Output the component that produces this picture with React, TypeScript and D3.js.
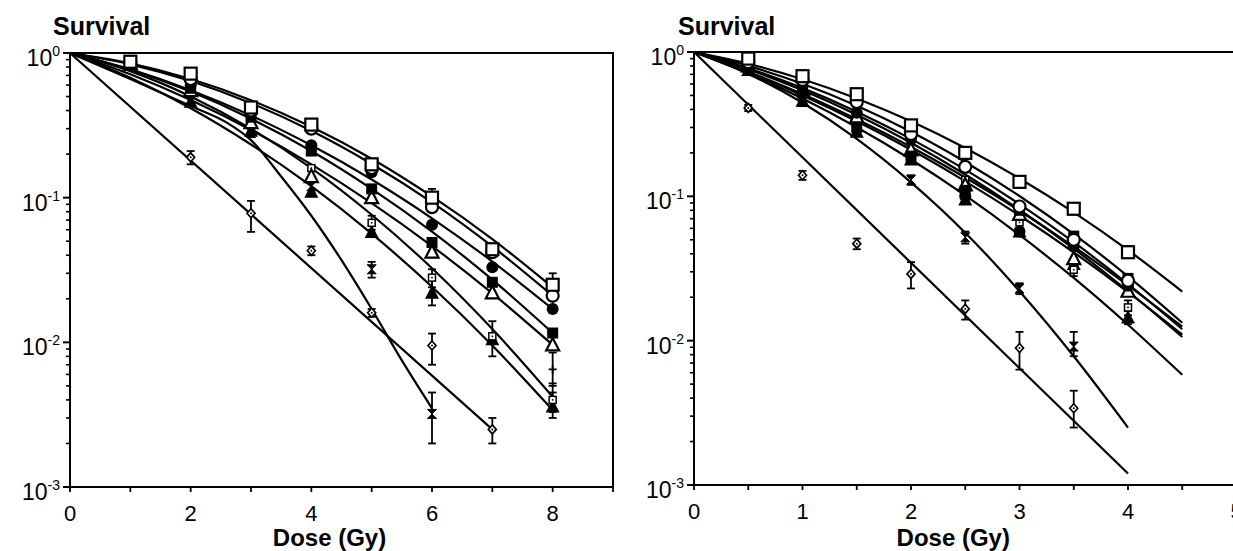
import React from 'react';
import * as d3 from 'd3';

// ---------- DATA: [dose, survival, errLow?, errHigh?] ----------
type Pt = [number, number, number?, number?];
type K = [number, number];

// Left panel (doses 0-9 Gy)
const L_openSquarePts: Pt[] = [[1, 0.87], [2, 0.72], [3, 0.42], [4, 0.32], [5, 0.17], [6, 0.1, 0.085, 0.115], [7, 0.044, 0.04, 0.048], [8, 0.025, 0.021, 0.03]];
const L_openSquareFit: K[] = [[0, 1], [1, 0.849], [2, 0.661], [3, 0.472], [4, 0.309], [5, 0.186], [6, 0.102], [7, 0.0517], [8, 0.024]];
const L_openCirclePts: Pt[] = [[1, 0.85], [2, 0.66], [3, 0.4], [4, 0.3], [5, 0.16], [6, 0.086], [7, 0.042], [8, 0.021, 0.018, 0.024]];
const L_openCircleFit: K[] = [[0, 1], [1, 0.835], [2, 0.64], [3, 0.45], [4, 0.29], [5, 0.171], [6, 0.0927], [7, 0.046], [8, 0.021]];
const L_filledCirclePts: Pt[] = [[1, 0.84], [2, 0.6], [3, 0.38], [4, 0.23], [5, 0.15], [6, 0.065], [7, 0.033], [8, 0.017]];
const L_filledCircleFit: K[] = [[0, 1], [1, 0.77], [2, 0.553], [3, 0.37], [4, 0.23], [5, 0.1335], [6, 0.072], [7, 0.0362], [8, 0.017]];
const L_filledSquarePts: Pt[] = [[1, 0.84], [2, 0.57], [3, 0.36], [4, 0.21], [5, 0.115], [6, 0.049], [7, 0.026], [8, 0.0116]];
const L_filledSquareFit: K[] = [[0, 1], [1, 0.767], [2, 0.541], [3, 0.351], [4, 0.21], [5, 0.115], [6, 0.0583], [7, 0.0271], [8, 0.0116]];
const L_openTrianglePts: Pt[] = [[1, 0.84], [2, 0.55], [3, 0.33], [4, 0.14], [5, 0.1], [6, 0.042], [7, 0.022], [8, 0.0096]];
const L_openTriangleFit: K[] = [[0, 1], [1, 0.712], [2, 0.473], [3, 0.294], [4, 0.17], [5, 0.0918], [6, 0.0463], [7, 0.0218], [8, 0.0096]];
const L_filledTrianglePts: Pt[] = [[1, 0.83], [2, 0.46], [3, 0.29], [4, 0.11], [5, 0.058], [6, 0.022, 0.018, 0.027], [7, 0.0105], [8, 0.0036, 0.003, 0.0045]];
const L_filledTriangleFit: K[] = [[0, 1], [1, 0.674], [2, 0.415], [3, 0.233], [4, 0.12], [5, 0.0564], [6, 0.0242], [7, 0.0095], [8, 0.0034]];
const L_smallSquarePts: Pt[] = [[1, 0.83], [2, 0.58], [3, 0.34], [4, 0.16], [5, 0.067, 0.06, 0.075], [6, 0.028, 0.024, 0.032], [7, 0.011, 0.008, 0.014], [8, 0.004, 0.0033, 0.0052]];
const L_smallSquareFit: K[] = [[0, 1], [1, 0.749], [2, 0.501], [3, 0.2996], [4, 0.16], [5, 0.0762], [6, 0.0325], [7, 0.01235], [8, 0.0042]];
const L_hourglassPts: Pt[] = [[2, 0.52], [3, 0.28], [4, 0.12], [5, 0.032, 0.028, 0.036], [6, 0.0032, 0.002, 0.0045]];
const L_hourglassFit: K[] = [[0, 1], [1, 0.66], [2, 0.43], [2.6, 0.33], [3, 0.25], [3.5, 0.14], [4, 0.075], [4.5, 0.037], [5, 0.017], [5.5, 0.0075], [6, 0.0035]];
const L_diamondPts: Pt[] = [[2, 0.19, 0.17, 0.21], [3, 0.078, 0.058, 0.095], [4, 0.043, 0.04, 0.046], [5, 0.016, 0.015, 0.017], [6, 0.0095, 0.007, 0.0115], [7, 0.0025, 0.002, 0.003]];
const L_diamondFit: K[] = [[0, 1], [7, 0.0025]];
const L_plusPts: Pt[] = [[8, 0.0065, 0.005, 0.0085]];

// Right panel (doses 0-5 Gy)
const R_openSquarePts: Pt[] = [[0.5, 0.9], [1, 0.68], [1.5, 0.51], [2, 0.31], [2.5, 0.2], [3, 0.126, 0.118, 0.134], [3.5, 0.082, 0.077, 0.087], [4, 0.041, 0.038, 0.045]];
const R_openSquareFit: K[] = [[0, 1], [0.5, 0.829], [1, 0.648], [1.5, 0.477], [2, 0.331], [2.5, 0.216], [3, 0.133], [3.5, 0.0774], [4, 0.0424], [4.5, 0.0219]];
const R_openCirclePts: Pt[] = [[0.5, 0.85], [1, 0.64], [1.5, 0.45], [2, 0.27], [2.5, 0.16], [3, 0.085], [3.5, 0.05], [4, 0.026]];
const R_openCircleFit: K[] = [[0, 1], [0.5, 0.801], [1, 0.602], [1.5, 0.424], [2, 0.28], [2.5, 0.173], [3, 0.1005], [3.5, 0.0547], [4, 0.0279], [4.5, 0.0133]];
const R_filledCirclePts: Pt[] = [[0.5, 0.8], [1, 0.58], [1.5, 0.38], [2, 0.25], [2.5, 0.1], [3, 0.057], [3.5, 0.045], [4, 0.024]];
const R_filledCircleFit: K[] = [[0, 1], [0.5, 0.772], [1, 0.562], [1.5, 0.386], [2, 0.25], [2.5, 0.153], [3, 0.0883], [3.5, 0.0481], [4, 0.0247], [4.5, 0.012]];
const R_filledSquarePts: Pt[] = [[0.5, 0.78], [1, 0.52], [1.5, 0.3], [2, 0.19], [2.5, 0.11], [3, 0.08], [3.5, 0.053], [4, 0.027]];
const R_filledSquareFit: K[] = [[0, 1], [0.5, 0.73], [1, 0.511], [1.5, 0.342], [2, 0.22], [2.5, 0.135], [3, 0.0795], [3.5, 0.0448], [4, 0.0242], [4.5, 0.0125]];
const R_openTrianglePts: Pt[] = [[0.5, 0.8], [1, 0.55], [1.5, 0.355], [2, 0.21], [2.5, 0.12], [3, 0.075], [3.5, 0.037], [4, 0.022]];
const R_openTriangleFit: K[] = [[0, 1], [0.5, 0.723], [1, 0.5], [1.5, 0.331], [2, 0.21], [2.5, 0.127], [3, 0.0737], [3.5, 0.0409], [4, 0.0217], [4.5, 0.011]];
const R_smallSquarePts: Pt[] = [[0.5, 0.82], [1, 0.6], [1.5, 0.43], [2, 0.24], [2.5, 0.13], [3, 0.066], [3.5, 0.031, 0.028, 0.034], [4, 0.017, 0.015, 0.019]];
const R_smallSquareFit: K[] = [[0, 1], [0.5, 0.759], [1, 0.543], [1.5, 0.368], [2, 0.235], [2.5, 0.1417], [3, 0.0807], [3.5, 0.0434], [4, 0.022], [4.5, 0.0106]];
const R_filledTrianglePts: Pt[] = [[0.5, 0.75], [1, 0.46], [1.5, 0.28], [2, 0.18], [2.5, 0.095], [3, 0.057], [3.5, 0.034], [4, 0.0145, 0.013, 0.016]];
const R_filledTriangleFit: K[] = [[0, 1], [0.5, 0.71], [1, 0.476], [1.5, 0.301], [2, 0.18], [2.5, 0.1015], [3, 0.054], [3.5, 0.0272], [4, 0.0129], [4.5, 0.0058]];
const R_hourglassPts: Pt[] = [[1, 0.45], [2, 0.13, 0.12, 0.14], [2.5, 0.052, 0.047, 0.057], [3, 0.023, 0.021, 0.025], [3.5, 0.0091, 0.0078, 0.0115]];
const R_hourglassFit: K[] = [[0, 1], [0.5, 0.705], [1, 0.445], [1.5, 0.25], [2, 0.125], [2.5, 0.056], [3, 0.022], [3.5, 0.0078], [4, 0.0025]];
const R_diamondPts: Pt[] = [[0.5, 0.41, 0.39, 0.43], [1, 0.14, 0.13, 0.15], [1.5, 0.047, 0.043, 0.051], [2, 0.029, 0.023, 0.035], [2.5, 0.0166, 0.014, 0.019], [3, 0.0089, 0.0063, 0.0115], [3.5, 0.0034, 0.0025, 0.0045]];
const R_diamondFit: K[] = [[0, 1], [4, 0.0012]];

const yTickExponents = [0, -1, -2, -3];
const leftXTicks = [0, 1, 2, 3, 4, 5, 6, 7, 8, 9];
const leftXLabels = [0, 2, 4, 6, 8];
const rightXTicks = [0, 0.5, 1, 1.5, 2, 2.5, 3, 3.5, 4, 4.5, 5];
const rightXLabels = [0, 1, 2, 3, 4, 5];

type Series = { pts: Pt[]; fit?: K[]; marker: string };

const leftSeries: Series[] = [
  { pts: L_diamondPts, fit: L_diamondFit, marker: 'diamond' },
  { pts: L_hourglassPts, fit: L_hourglassFit, marker: 'hourglass' },
  { pts: L_plusPts, marker: 'plus' },
  { pts: L_filledTrianglePts, fit: L_filledTriangleFit, marker: 'triFilled' },
  { pts: L_smallSquarePts, fit: L_smallSquareFit, marker: 'sqSmall' },
  { pts: L_openTrianglePts, fit: L_openTriangleFit, marker: 'triOpen' },
  { pts: L_filledSquarePts, fit: L_filledSquareFit, marker: 'sqFilled' },
  { pts: L_filledCirclePts, fit: L_filledCircleFit, marker: 'circFilled' },
  { pts: L_openCirclePts, fit: L_openCircleFit, marker: 'circOpen' },
  { pts: L_openSquarePts, fit: L_openSquareFit, marker: 'sqOpen' },
];

const rightSeries: Series[] = [
  { pts: R_diamondPts, fit: R_diamondFit, marker: 'diamond' },
  { pts: R_hourglassPts, fit: R_hourglassFit, marker: 'hourglass' },
  { pts: R_filledTrianglePts, fit: R_filledTriangleFit, marker: 'triFilled' },
  { pts: R_smallSquarePts, fit: R_smallSquareFit, marker: 'sqSmall' },
  { pts: R_openTrianglePts, fit: R_openTriangleFit, marker: 'triOpen' },
  { pts: R_filledSquarePts, fit: R_filledSquareFit, marker: 'sqFilled' },
  { pts: R_filledCirclePts, fit: R_filledCircleFit, marker: 'circFilled' },
  { pts: R_openCirclePts, fit: R_openCircleFit, marker: 'circOpen' },
  { pts: R_openSquarePts, fit: R_openSquareFit, marker: 'sqOpen' },
];

const FONT = "'Liberation Sans', Arial, Helvetica, sans-serif";

function Marker({ type, x, y }: { type: string; x: number; y: number }) {
  switch (type) {
    case 'sqOpen':
      return <rect x={x - 6} y={y - 6} width={12} height={12} fill="#fff" stroke="#000" strokeWidth={2.2} />;
    case 'sqFilled':
      return <rect x={x - 5.5} y={y - 5.5} width={11} height={11} fill="#000" />;
    case 'circOpen':
      return <circle cx={x} cy={y} r={6} fill="#fff" stroke="#000" strokeWidth={2.2} />;
    case 'circFilled':
      return <circle cx={x} cy={y} r={6} fill="#000" />;
    case 'triOpen':
      return <path d={`M${x},${y - 7}L${x + 6.5},${y + 5.5}L${x - 6.5},${y + 5.5}Z`} fill="#fff" stroke="#000" strokeWidth={2.2} />;
    case 'triFilled':
      return <path d={`M${x},${y - 7.5}L${x + 7},${y + 6}L${x - 7},${y + 6}Z`} fill="#000" />;
    case 'sqSmall':
      return (
        <g>
          <rect x={x - 3.5} y={y - 3.5} width={7} height={7} fill="#fff" stroke="#000" strokeWidth={1.5} />
          <rect x={x - 0.8} y={y - 0.8} width={1.6} height={1.6} fill="#000" />
        </g>
      );
    case 'hourglass':
      return <path d={`M${x - 4.5},${y - 4.5}L${x + 4.5},${y - 4.5}L${x - 4.5},${y + 4.5}L${x + 4.5},${y + 4.5}Z`} fill="#000" stroke="#000" strokeWidth={1} />;
    case 'diamond':
      return (
        <g>
          <path d={`M${x},${y - 4.5}L${x + 4},${y}L${x},${y + 4.5}L${x - 4},${y}Z`} fill="#fff" stroke="#000" strokeWidth={1.7} />
          <circle cx={x} cy={y} r={1} fill="#000" />
        </g>
      );
    case 'plus':
      return <path d={`M${x - 4},${y}H${x + 4}M${x},${y - 4}V${y + 4}`} stroke="#000" strokeWidth={1.8} />;
    default:
      return null;
  }
}

function Panel({
  x0, x1, xMax, yTop, yBottom, series, xTicks, xLabels, titleX,
}: {
  x0: number; x1: number; xMax: number; yTop: number; yBottom: number;
  series: Series[]; xTicks: number[]; xLabels: number[]; titleX: number;
}) {
  const x = d3.scaleLinear().domain([0, xMax]).range([x0, x1]);
  const y = d3.scaleLog().domain([1e-3, 1]).range([yBottom, yTop]);
  const line = d3.line<K>().x((d) => x(d[0])).y((d) => y(d[1])).curve(d3.curveMonotoneX);

  const minorY: number[] = [];
  for (const e of [-3, -2, -1]) for (let m = 2; m <= 9; m++) minorY.push(m * Math.pow(10, e));

  return (
    <g fontFamily={FONT}>
      <rect x={x0} y={yTop} width={x1 - x0} height={yBottom - yTop} fill="none" stroke="#000" strokeWidth={2} />
      {minorY.map((v, i) => (
        <line key={'my' + i} x1={x0 - 4} x2={x0} y1={y(v)} y2={y(v)} stroke="#000" strokeWidth={1.6} />
      ))}
      {yTickExponents.map((e) => (
        <g key={'y' + e}>
          <line x1={x0 - 7} x2={x0} y1={y(Math.pow(10, e))} y2={y(Math.pow(10, e))} stroke="#000" strokeWidth={2} />
          <text x={x0 - 10} y={y(Math.pow(10, e)) + 13} textAnchor="end" fontSize={23} fill="#000">
            10<tspan fontSize={14} dy={-10}>{e === 0 ? '0' : String(e)}</tspan>
          </text>
        </g>
      ))}
      {xTicks.map((t, i) => (
        <line key={'xt' + i} x1={x(t)} x2={x(t)} y1={yBottom} y2={yBottom + 5} stroke="#000" strokeWidth={1.8} />
      ))}
      {xLabels.map((t) => (
        <text key={'xl' + t} x={x(t)} y={yBottom + 34} textAnchor="middle" fontSize={22} fill="#000">
          {t}
        </text>
      ))}
      <text x={(x0 + x1) / 2 - 12} y={546} textAnchor="middle" fontSize={24} fontWeight="bold" fill="#000">
        Dose (Gy)
      </text>
      <text x={titleX} y={35} fontSize={25} fontWeight="bold" fill="#000">
        Survival
      </text>
      {series.map((s, i) =>
        s.fit ? <path key={'f' + i} d={line(s.fit) || ''} fill="none" stroke="#000" strokeWidth={2.2} /> : null
      )}
      {series.map((s, i) =>
        s.pts.map((p, j) =>
          p[2] !== undefined && p[3] !== undefined ? (
            <g key={'e' + i + '-' + j} stroke="#000" strokeWidth={1.8}>
              <line x1={x(p[0])} x2={x(p[0])} y1={y(p[2] as number)} y2={y(p[3] as number)} />
              <line x1={x(p[0]) - 4} x2={x(p[0]) + 4} y1={y(p[2] as number)} y2={y(p[2] as number)} />
              <line x1={x(p[0]) - 4} x2={x(p[0]) + 4} y1={y(p[3] as number)} y2={y(p[3] as number)} />
            </g>
          ) : null
        )
      )}
      {series.map((s, i) =>
        s.pts.map((p, j) => <Marker key={'m' + i + '-' + j} type={s.marker} x={x(p[0])} y={y(p[1])} />)
      )}
    </g>
  );
}

export default function App() {
  return (
    <svg width={1233} height={551} style={{ position: 'absolute', left: 0, top: 0, background: '#fff' }}>
      <rect x={0} y={0} width={1233} height={551} fill="#fff" />
      <Panel x0={70} x1={613} xMax={9} yTop={53} yBottom={487} series={leftSeries} xTicks={leftXTicks} xLabels={leftXLabels} titleX={53} />
      <Panel x0={694} x1={1236.5} xMax={5} yTop={52} yBottom={485} series={rightSeries} xTicks={rightXTicks} xLabels={rightXLabels} titleX={678} />
    </svg>
  );
}
